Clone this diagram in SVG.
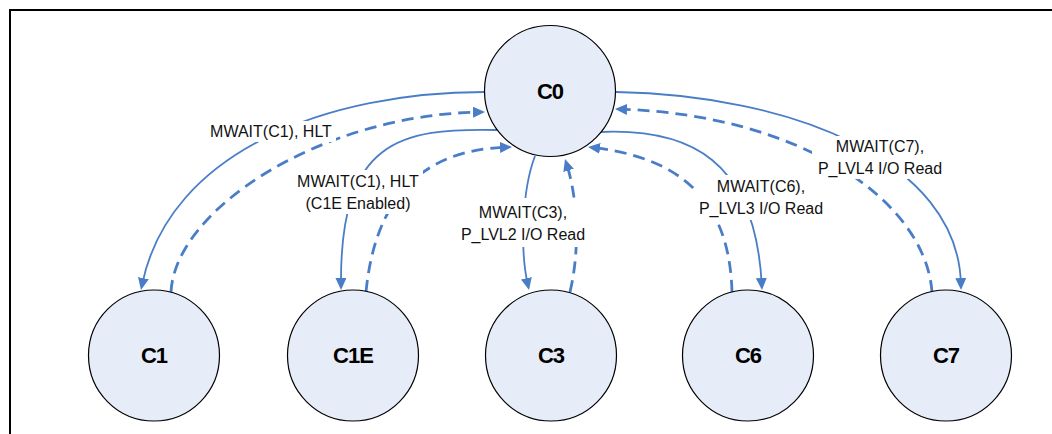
<svg xmlns="http://www.w3.org/2000/svg" width="1052" height="434" viewBox="0 0 1052 434">
<style>
.frame{fill:none;stroke:#000;stroke-width:2}
.node{fill:#E6EDF8;stroke:#000;stroke-width:1.2}
.ntxt{font-family:"Liberation Sans",Arial,sans-serif;font-size:22px;font-weight:bold;letter-spacing:-1px;text-anchor:middle;fill:#000}
.solid{fill:none;stroke:#4A7DC7;stroke-width:1.8;marker-end:url(#ah)}
.dash{fill:none;stroke:#4A7DC7;stroke-width:2.8;stroke-dasharray:12 7;marker-end:url(#ah)}
.lbg{fill:#fff}
.ltxt{font-family:"Liberation Sans",Arial,sans-serif;font-size:16px;text-anchor:middle;fill:#111}
</style>
<defs>
<marker id="ah" viewBox="0 0 12 11" refX="6" refY="5.5" markerWidth="12" markerHeight="11" markerUnits="userSpaceOnUse" orient="auto">
<path d="M0,0 L12,5.5 L0,11 z" fill="#4A7DC7"/>
</marker>
</defs>
<rect width="1052" height="434" fill="#fff"/>
<path class="frame" d="M10,436 L10,10 L1054,10"/>
<g id="connectors">
<path class="solid" d="M484,92 C330,92 170,150 142.2,284.1"/>
<path class="dash" d="M171,292 C175,210 320,115 479,112.1"/>
<path class="solid" d="M497,130 C400,128 340,140 341,284"/>
<path class="dash" d="M366,292 C375,200 420,150 506,147.2"/>
<path class="solid" d="M535,156 C522,190 520,250 527.7,284.1"/>
<path class="dash" d="M570,292 C580,250 578,200 566.8,164.7"/>
<path class="solid" d="M600,132 C690,128 755,160 761.7,284"/>
<path class="dash" d="M732,292 C730,220 700,160 594,147.7"/>
<path class="solid" d="M616,92 C790,95 958,160 960.9,284"/>
<path class="dash" d="M932,292 C925,200 800,115 621,109.2"/>
<g id="labels">
<rect class="lbg" x="206" y="121" width="130" height="21"/>
<text class="ltxt" x="271" y="137">MWAIT(C1), HLT</text>
<rect class="lbg" x="293" y="170" width="130" height="44"/>
<text class="ltxt" x="358" y="187">MWAIT(C1), HLT</text>
<text class="ltxt" x="358" y="209">(C1E Enabled)</text>
<rect class="lbg" x="456" y="198" width="134" height="49"/>
<text class="ltxt" x="523" y="218">MWAIT(C3),</text>
<text class="ltxt" x="523" y="240">P_LVL2 I/O Read</text>
<rect class="lbg" x="694" y="175" width="134" height="45"/>
<text class="ltxt" x="761" y="192">MWAIT(C6),</text>
<text class="ltxt" x="761" y="214">P_LVL3 I/O Read</text>
<rect class="lbg" x="812" y="136" width="136" height="43"/>
<text class="ltxt" x="880" y="152">MWAIT(C7),</text>
<text class="ltxt" x="880" y="174">P_LVL4 I/O Read</text>
</g>
</g>
<g id="node-C0"><circle class="node" cx="550" cy="91" r="65.5"/><text class="ntxt" x="550" y="99">C0</text></g>
<g id="node-C1"><circle class="node" cx="154" cy="355.5" r="65.5"/><text class="ntxt" x="154" y="363">C1</text></g>
<g id="node-C1E"><circle class="node" cx="353" cy="355.5" r="65.5"/><text class="ntxt" x="353" y="363">C1E</text></g>
<g id="node-C3"><circle class="node" cx="551" cy="355.5" r="65.5"/><text class="ntxt" x="551" y="363">C3</text></g>
<g id="node-C6"><circle class="node" cx="748" cy="355.5" r="65.5"/><text class="ntxt" x="748" y="363">C6</text></g>
<g id="node-C7"><circle class="node" cx="946" cy="355.5" r="65.5"/><text class="ntxt" x="946" y="363">C7</text></g>
</svg>
